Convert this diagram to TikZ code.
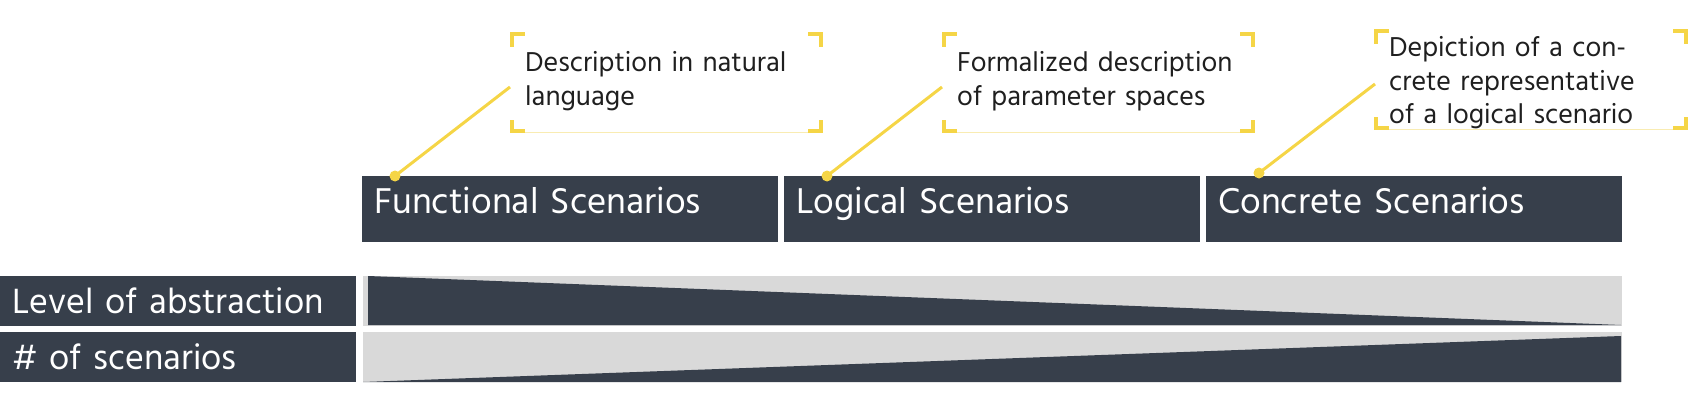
\documentclass[tikz,border=0pt]{standalone}
\usepackage{fontspec}
\setmainfont{Hind Siliguri}
\usetikzlibrary{calc}
\definecolor{dk}{RGB}{55,63,75}
\definecolor{yl}{RGB}{245,213,70}
\definecolor{ylt}{RGB}{249,236,178}
\definecolor{lg}{RGB}{217,217,217}
\newcommand\brkcorners[1]{%
 \draw[brk] ($(#1.north west)+(2,15)$) -- ($(#1.north west)+(2,2)$) -- ($(#1.north west)+(15,2)$);
 \draw[brk] ($(#1.north east)+(-2,15)$) -- ($(#1.north east)+(-2,2)$) -- ($(#1.north east)+(-15,2)$);
 \draw[brk] ($(#1.south west)+(2,-13)$) -- ($(#1.south west)+(2,-2)$) -- ($(#1.south west)+(15,-2)$);
 \draw[brk] ($(#1.south east)+(-2,-13)$) -- ($(#1.south east)+(-2,-2)$) -- ($(#1.south east)+(-15,-2)$);
 \draw[ylt, line width=1pt] ($(#1.south west)+(15,-0.5)$) -- ($(#1.south east)+(-15,-0.5)$);
}
\begin{document}
\begin{tikzpicture}[x=1pt,y=-1pt,
  scenbox/.style={fill=dk, text=white, anchor=north west, minimum width=416pt, minimum height=66pt,
    inner xsep=12pt, inner ysep=0pt, text width=392pt, align=left, text height=26pt, text depth=18pt,
    font=\fontsize{36.8}{40}\selectfont},
  rowbox/.style={fill=dk, text=white, anchor=north west, minimum width=356pt, minimum height=50pt,
    inner xsep=12pt, inner ysep=0pt, text width=332pt, align=left, text height=30pt, text depth=6pt,
    font=\fontsize{36}{40}\selectfont},
  frame/.style={anchor=north west, minimum width=313pt, minimum height=101pt, inner sep=0pt},
  ann/.style={anchor=base west, inner sep=0pt, text width=300pt, align=left, text=black!88,
    font=\fontsize{28}{33.5}\selectfont},
  brk/.style={yl, line width=4pt, line join=miter, line cap=butt},
  conn/.style={yl, line width=3pt},
  dot/.style={circle, fill=yl, inner sep=0pt, minimum size=11pt}
]
\useasboundingbox (0,0) rectangle (1702,401);

% scenario boxes
\node[scenbox] (f) at (362,176) {Functional Scenarios};
\node[scenbox] (l) at (784,176) {Logical Scenarios};
\node[scenbox] (c) at (1206,176) {Concrete Scenarios};

% annotation frames
\node[frame] (a1) at (510,32) {};
\node[frame] (a2) at (942,32) {};
\node[frame, minimum width=314pt] (a3) at (1374,29) {};
\brkcorners{a1}
\brkcorners{a2}
\brkcorners{a3}

\node[ann] (t1) at (525,72) {Description in natural\\language};
\node[ann] (t2) at (957,72) {Formalized description\\of parameter spaces};
\node[ann] (t3) at (1389,57) {Depiction of a con-\\crete representative\\of a logical scenario};

% connectors
\coordinate (p1) at ($(f.north west)+(33,0)$);
\coordinate (p2) at ($(l.north west)+(43,0)$);
\coordinate (p3) at ($(c.north west)+(53,-3)$);
\coordinate (s1) at ($(a1.north west)+(0,55)$);
\coordinate (s2) at ($(a2.north west)+(0,55)$);
\coordinate (s3) at ($(a3.north west)+(1,55)$);
\draw[conn] (s1) -- (p1);
\draw[conn] (s2) -- (p2);
\draw[conn] (s3) -- (p3);
\node[dot] at (p1) {};
\node[dot] at (p2) {};
\node[dot] at (p3) {};

% row labels
\node[rowbox] (r1) at (0,276) {Level of abstraction};
\node[rowbox] (r2) at (0,332) {\# of scenarios};

% wedge bars
\fill[lg] (363,276) rectangle (1622,326);
\fill[dk] (368,276) -- (1621,325) -- (368,325) -- cycle;
\fill[lg] (363,332) rectangle (1622,382);
\fill[dk] (363,382) -- (1621,336) -- (1621,382) -- cycle;
\end{tikzpicture}
\end{document}
